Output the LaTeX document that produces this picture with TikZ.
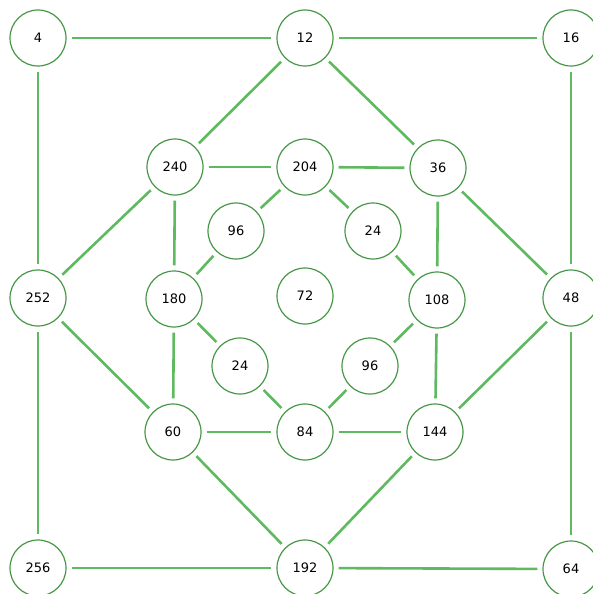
\documentclass[tikz,border=0pt]{standalone}
\usepackage{fontspec}
\setmainfont{DejaVu Sans}
\definecolor{ringgreen}{RGB}{70,150,70}
\definecolor{edgegreen}{RGB}{95,185,95}
\tikzset{
  num/.style={draw=ringgreen,line width=1.2pt,shape=circle,minimum size=56pt,
    inner sep=0pt,font=\fontsize{13}{15}\selectfont},
  link/.style={edgegreen,line width=2.6pt,shorten >=5pt,shorten <=5pt}
}
\begin{document}
\begin{tikzpicture}[x=1pt,y=-1pt]
      \useasboundingbox (0,0) rectangle (593,594) ;
      % outer square
      \node[num] (n4) at (38,38) {4} ;
      \node[num] (n12) at (305,38) {12} ;
      \node[num] (n16) at (571,38) {16} ;
      \node[num] (n252) at (38,298) {252} ;
      \node[num] (n48) at (571,298) {48} ;
      \node[num] (n256) at (38,568) {256} ;
      \node[num] (n192) at (305,568) {192} ;
      \node[num] (n64) at (571,569) {64} ;
      % middle ring
      \node[num] (n240) at (175,167) {240} ;
      \node[num] (n204) at (305,167) {204} ;
      \node[num] (n36) at (438,168) {36} ;
      \node[num] (n180) at (174,299) {180} ;
      \node[num] (n108) at (437,300) {108} ;
      \node[num] (n60) at (173,432) {60} ;
      \node[num] (n84) at (305,432) {84} ;
      \node[num] (n144) at (435,432) {144} ;
      % inner diamond
      \node[num] (n96a) at (236,231) {96} ;
      \node[num] (n24a) at (373,231) {24} ;
      \node[num] (n24b) at (240,366) {24} ;
      \node[num] (n96b) at (370,366) {96} ;
      \node[num] (n72) at (305,296) {72} ;
      % edges
      \draw[link] (n4)--(n12) ;
      \draw[link] (n12)--(n16) ;
      \draw[link] (n4)--(n252) ;
      \draw[link] (n252)--(n256) ;
      \draw[link] (n256)--(n192) ;
      \draw[link] (n192)--(n64) ;
      \draw[link] (n16)--(n48) ;
      \draw[link] (n48)--(n64) ;
      \draw[link] (n12)--(n240) ;
      \draw[link] (n12)--(n36) ;
      \draw[link] (n240)--(n204) ;
      \draw[link] (n204)--(n36) ;
      \draw[link] (n240)--(n252) ;
      \draw[link] (n240)--(n180) ;
      \draw[link] (n36)--(n108) ;
      \draw[link] (n36)--(n48) ;
      \draw[link] (n252)--(n60) ;
      \draw[link] (n48)--(n144) ;
      \draw[link] (n180)--(n60) ;
      \draw[link] (n108)--(n144) ;
      \draw[link] (n60)--(n84) ;
      \draw[link] (n84)--(n144) ;
      \draw[link] (n60)--(n192) ;
      \draw[link] (n144)--(n192) ;
      \draw[link] (n204)--(n96a) ;
      \draw[link] (n204)--(n24a) ;
      \draw[link] (n96a)--(n180) ;
      \draw[link] (n24a)--(n108) ;
      \draw[link] (n180)--(n24b) ;
      \draw[link] (n108)--(n96b) ;
      \draw[link] (n24b)--(n84) ;
      \draw[link] (n96b)--(n84) ;
    \end{tikzpicture}
\end{document}
